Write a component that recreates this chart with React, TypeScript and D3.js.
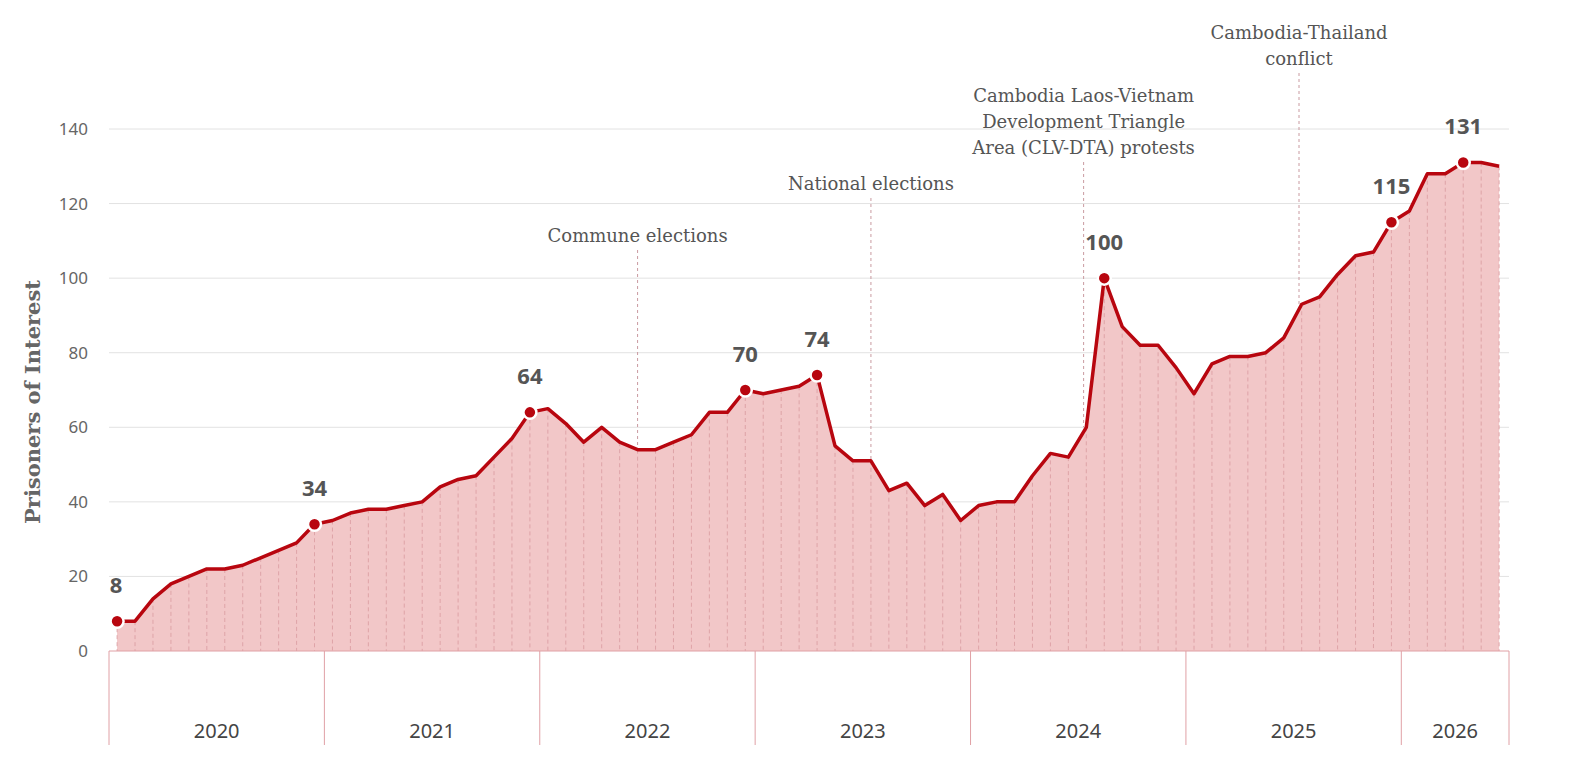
import * as d3 from "d3";
import React from "react";

// monthly counts, Jan 2020 .. Jun 2026
const values = [
  8, 8, 14, 18, 20, 22, 22, 23, 25, 27, 29, 34,
  35, 37, 38, 38, 39, 40, 44, 46, 47, 52, 57, 64,
  65, 61, 56, 60, 56, 54, 54, 56, 58, 64, 64, 70,
  69, 70, 71, 74, 55, 51, 51, 43, 45, 39, 42, 35,
  39, 40, 40, 47, 53, 52, 60, 100, 87, 82, 82, 76,
  69, 77, 79, 79, 80, 84, 93, 95, 101, 106, 107, 115,
  118, 128, 128, 131, 131, 130,
];
const labelled = [0, 11, 23, 35, 39, 55, 71, 75];
const years = ["2020", "2021", "2022", "2023", "2024", "2025", "2026"];
const yearMonths = [12, 12, 12, 12, 12, 12, 6];
const yTicks = [0, 20, 40, 60, 80, 100, 120, 140];
const events = [
  { at: 29, lines: ["Commune elections"], top: 236 },
  { at: 42, lines: ["National elections"], top: 184 },
  { at: 53.85, lines: ["Cambodia Laos-Vietnam", "Development Triangle", "Area (CLV-DTA) protests"], top: 96 },
  { at: 65.85, lines: ["Cambodia-Thailand", "conflict"], top: 33 },
];

const W = 1594, H = 777;
const left = 109, right = 1509, top = 129, bottom = 651;
const RED = "#b8060f";
const serif = "'DejaVu Serif', serif";
const sans = "'Noto Sans', sans-serif";

export default function App() {
  const x = d3.scaleLinear().domain([0, 78]).range([left, right]);
  const px = (i: number) => x(i + 0.45);
  const y = d3.scaleLinear().domain([0, 140]).range([bottom, top]);
  const line = d3.line<number>().x((_, i) => px(i)).y(d => y(d));
  const area = d3.area<number>().x((_, i) => px(i)).y0(bottom).y1(d => y(d));
  let acc = 0;
  const yearStarts = yearMonths.map(m => { const s = acc; acc += m; return s; });

  return (
    <svg width={W} height={H} style={{ position: "absolute", left: 0, top: 0, background: "#fff" }}>
      {yTicks.map(t => (
        <g key={t}>
          {t > 0 && <line x1={left} x2={right} y1={y(t)} y2={y(t)} stroke="#e2e2e2" strokeWidth={1} />}
          <text x={88} y={y(t)} dy="0.35em" textAnchor="end" fontFamily={sans} fontSize={17} fill="#666">{t}</text>
        </g>
      ))}
      <text transform={`translate(40,${(top + bottom) / 2 + 12}) rotate(-90)`} textAnchor="middle"
        fontFamily={serif} fontWeight="bold" fontSize={21} fill="#666">Prisoners of Interest</text>
      <path d={area(values)!} fill="#f2c7c8" />
      {values.map((d, i) => (
        <line key={i} x1={px(i)} x2={px(i)} y1={y(d)} y2={bottom} stroke="#d99aa0" strokeDasharray="4,3" strokeWidth={0.8} />
      ))}
      {events.map((e, k) => (
        <g key={k}>
          <line x1={px(e.at)} x2={px(e.at)} y1={e.top + 14 + (e.lines.length - 1) * 26} y2={y(values[Math.round(e.at)])}
            stroke="#c99aa0" strokeDasharray="3,3" strokeWidth={1} />
          {e.lines.map((l, j) => (
            <text key={j} x={px(e.at)} y={e.top + j * 26} dy="0.35em" textAnchor="middle"
              fontFamily={serif} fontSize={18} fill="#555">{l}</text>
          ))}
        </g>
      ))}
      <line x1={left} x2={right} y1={bottom} y2={bottom} stroke="#e0a0a5" />
      <path d={line(values)!} fill="none" stroke={RED} strokeWidth={3.5} strokeLinejoin="round" />
      {labelled.map(i => (
        <g key={i}>
          <circle cx={px(i)} cy={y(values[i])} r={6.5} fill={RED} stroke="#fff" strokeWidth={2.5} />
          <text x={px(i) + (i === 0 ? -1 : 0)} y={y(values[i]) - 36} dy="0.35em" textAnchor="middle"
            fontFamily={sans} fontWeight="bold" fontSize={22} fill="#555">{values[i]}</text>
        </g>
      ))}
      {years.map((yr, k) => {
        const x0 = x(yearStarts[k]), x1 = x(yearStarts[k] + yearMonths[k]);
        return (
          <g key={yr}>
            <line x1={x0} x2={x0} y1={bottom} y2={745} stroke="#e0a0a5" />
            {k === years.length - 1 && <line x1={x1} x2={x1} y1={bottom} y2={745} stroke="#e0a0a5" />}
            <text x={(x0 + x1) / 2} y={731} dy="0.35em" textAnchor="middle" fontFamily={sans} fontSize={20} fill="#444">{yr}</text>
          </g>
        );
      })}
    </svg>
  );
}
